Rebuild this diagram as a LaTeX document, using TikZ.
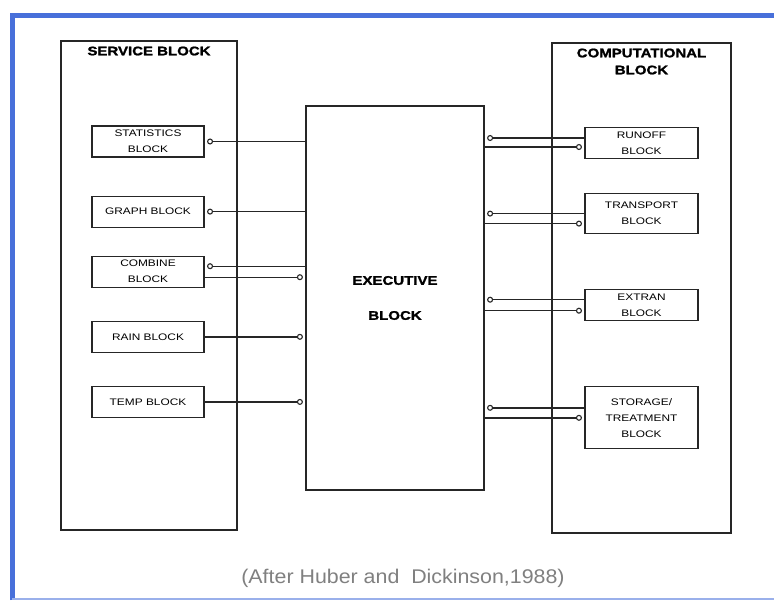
\documentclass[tikz,border=0pt]{standalone}
\usepackage{fontspec}
\setmainfont{Liberation Sans}
\newfontfamily\headfont[FakeStretch=1.2,FakeBold=1.5]{Liberation Sans Bold}
\newfontfamily\boxfont[FakeStretch=1.25]{Liberation Sans}
\newfontfamily\capfont[FakeStretch=1.08]{Liberation Sans}
\usetikzlibrary{arrows.meta,positioning}
\definecolor{framebl}{RGB}{72,112,218}
\definecolor{capgray}{RGB}{128,128,128}

\begin{document}
\begin{tikzpicture}[
  x=1pt, y=-1pt,
  node distance=33pt,
  every node/.style={align=center, inner sep=0pt},
  big/.style={draw=black!85, line width=1.2pt},
  box/.style={draw=black!85, line width=1.1pt, minimum width=112pt, minimum height=31pt,
    font=\boxfont\fontsize{9.5}{16}\selectfont},
  title/.style={font=\headfont\fontsize{12.5}{17}\selectfont},
  conn/.style={draw=black!85, line width=1.4pt, shorten >=2.5pt},
  ring/.style={-{Circle[open,length=6pt,width=6pt,line width=1.1pt]}}
]
\fill[white] (0,0) rectangle (774,603);
\useasboundingbox (0,0) rectangle (774,603);

% frame
\draw[framebl, line width=5pt] (12.5,600) -- (12.5,15) -- (774,15);
\draw[framebl!55, line width=1.2pt] (12,599) -- (774,599);

% the three main blocks
\node[big, minimum width=176pt, minimum height=489pt] (svc) at (149,285.5) {};
\node[big, minimum width=178pt, minimum height=384pt, title] (exec) at (395,298)
  {EXECUTIVE\\[18pt]BLOCK};
\node[big, minimum width=179pt, minimum height=490pt] (comp) at (641.5,288) {};
\node[title, below=6pt of svc.north] (svct) {SERVICE BLOCK};
\node[title, below=6pt of comp.north] (compt) {COMPUTATIONAL\\BLOCK};

% service side
\node[box] (stat) at (148,141.5) {STATISTICS\\BLOCK};
\node[box, below=38pt of stat] (graph) {GRAPH BLOCK};
\node[box, below=28pt of graph] (comb) {COMBINE\\BLOCK};
\node[box, below=of comb] (rain) {RAIN BLOCK};
\node[box, below=of rain] (temp) {TEMP BLOCK};

% computational side
\node[box, minimum width=113pt] (runoff) at (641.5,143) {RUNOFF\\BLOCK};
\node[box, minimum width=113pt, minimum height=40pt, below=34pt of runoff] (trans) {TRANSPORT\\BLOCK};
\node[box, minimum width=113pt, below=55pt of trans] (extran) {EXTRAN\\BLOCK};
\node[box, minimum width=113pt, minimum height=62pt, below=65pt of extran] (stor) {STORAGE/\\TREATMENT\\BLOCK};

\coordinate (c1) at ([yshift=5.5pt]comb.east);
\coordinate (c2) at ([yshift=-5.5pt]comb.east);
\draw[conn, ring] (exec.west |- stat) -- (stat);
\draw[conn, ring] (exec.west |- graph) -- (graph);
\draw[conn, ring] (exec.west |- c1) -- (c1);
\draw[conn, ring] (c2) -- (exec.west |- c2);
\draw[conn, ring] (rain) -- (exec.west |- rain);
\draw[conn, ring] (temp) -- (exec.west |- temp);

\foreach \b/\u/\d in {runoff/5/-4, trans/0/-10, extran/5.5/-5.5, stor/10/0} {
  \coordinate (p) at ([yshift=\u pt]\b.west);
  \coordinate (q) at ([yshift=\d pt]\b.west);
  \draw[conn, ring] (p) -- (exec.east |- p);
  \draw[conn, ring] (exec.east |- q) -- (q);
}

\node[text=capgray, font=\capfont\fontsize{19.8}{22}\selectfont] (src) at (403,578)
  {(After Huber and\ \ Dickinson,1988)};
\end{tikzpicture}
\end{document}
